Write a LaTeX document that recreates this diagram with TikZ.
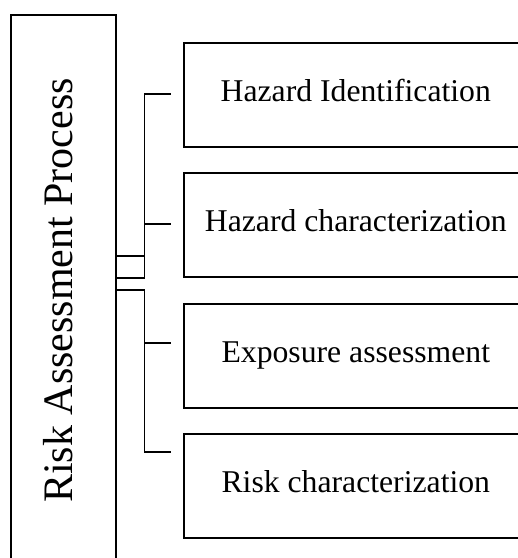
\documentclass[tikz,border=0pt]{standalone}
\usepackage{fontspec}
\setmainfont{Liberation Serif}
\begin{document}
\begin{tikzpicture}[x=1pt,y=-1pt,
  frame/.style={draw=black,line width=1.6pt},
  stagebox/.style={frame,minimum width=344pt,minimum height=104pt,anchor=north west,
    inner sep=0pt,text height=14pt,text depth=0pt,font=\fontsize{31.7}{38}\selectfont},
  elbow/.style={draw=black,line width=1.6pt}]
\useasboundingbox (0,0) rectangle (518,558);
\clip (0,0) rectangle (518,558);
% main box
\node[frame,minimum width=105pt,minimum height=560pt,anchor=north west,inner sep=0pt] (main) at (10,14) {};
\node[rotate=90,anchor=base,inner sep=0pt,font=\fontsize{42}{50}\selectfont] (mainlabel) at (72,290.5) {Risk Assessment Process};
% stage boxes
\node[stagebox] (b1) at (183,42) {Hazard Identification};
\node[stagebox] (b2) at (183,172) {Hazard characterization};
\node[stagebox] (b3) at (183,303) {Exposure assessment};
\node[stagebox] (b4) at (183,433) {Risk characterization};
% connector ends
\coordinate (s1) at (main.east |- 0,278);
\coordinate (s2) at (main.east |- 0,256);
\coordinate (s3) at (main.east |- 0,290);
\coordinate (e1) at (171,94);
\coordinate (e2) at (171,224);
\coordinate (e3) at (171,343);
\coordinate (e4) at (171,452);
\draw[elbow] (s1) -- ++(28,0) |- (e1);
\draw[elbow] (s2) -- ++(28,0) |- (e2);
\draw[elbow] (s3) -- ++(28,0) |- (e3);
\draw[elbow] (s3) -- ++(28,0) |- (e4);
\end{tikzpicture}
\end{document}
